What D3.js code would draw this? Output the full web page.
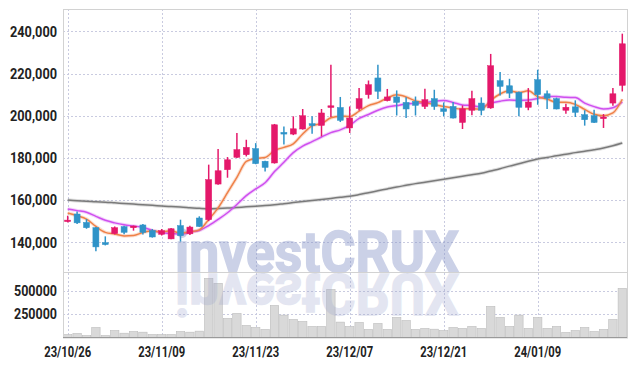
<!DOCTYPE html>
<html>
<head>
<meta charset="utf-8">
<script src="https://cdn.jsdelivr.net/npm/d3@7"></script>
<style>
  body { margin: 0; background: #fff; }
  text { font-family: Roboto, "Liberation Sans", sans-serif; }
</style>
</head>
<body>
<div id="chart"></div>
<script>
// Trading days (YY/MM/DD)
var dates = ["23/10/26","23/10/27","23/10/30","23/10/31","23/11/01","23/11/02","23/11/03","23/11/06","23/11/07","23/11/08",
  "23/11/09","23/11/10","23/11/13","23/11/14","23/11/15","23/11/16","23/11/17","23/11/20","23/11/21","23/11/22",
  "23/11/23","23/11/24","23/11/27","23/11/28","23/11/29","23/11/30","23/12/01","23/12/04","23/12/05","23/12/06",
  "23/12/07","23/12/08","23/12/11","23/12/12","23/12/13","23/12/14","23/12/15","23/12/18","23/12/19","23/12/20",
  "23/12/21","23/12/22","23/12/26","23/12/27","23/12/28","24/01/02","24/01/03","24/01/04","24/01/05","24/01/08",
  "24/01/09","24/01/10","24/01/11","24/01/12","24/01/15","24/01/16","24/01/17","24/01/18","24/01/19","24/01/22"];

var openPrices = [149800,153400,149400,146900,139800,144100,147400,146900,148200,145600,
  143800,141600,147900,144000,151500,150700,167600,174400,180300,181500,
  184400,178400,177600,192100,191300,193700,196200,195400,203900,203900,
  194200,203400,210000,217900,207100,208900,206300,206800,204400,208100,
  203300,204400,196800,202600,206000,203700,216600,214200,211100,204000,
  217100,210400,208100,202600,204200,200500,200000,198600,206000,214400];

var highPrices = [152600,154600,151000,147200,142800,147500,147800,147900,148600,146300,
  146300,146800,150700,147800,152300,176800,184200,180400,191800,188600,
  187000,178600,196100,194900,199700,203200,199700,203200,224200,208900,
  204400,213100,216700,224200,212700,212000,208700,209100,212800,212300,
  206300,206500,204900,211800,208700,229300,220700,217500,211500,213100,
  221800,212000,208600,205700,207300,202600,202800,200800,213100,238900];

var lowPrices = [149400,148700,146400,135700,138500,143700,143800,145500,143700,142200,
  143200,141400,140300,143400,147300,150000,167300,170600,180000,180700,
  177000,173600,177300,186300,190800,193400,191500,190200,199400,197000,
  191800,202500,208100,207900,206800,200100,198900,200100,203200,202800,
  199700,198700,193700,200200,200200,203300,209600,208400,199700,202600,
  205200,203200,203000,200900,199400,195300,196500,194200,204700,211500];

var closePrices = [150500,149200,146900,137800,138900,146900,144700,147700,144700,142500,
  145500,146400,143100,147200,147500,169700,173900,179100,183900,185000,
  177300,175500,195700,191300,193800,200000,195300,201300,204700,197800,
  198900,208100,214700,211600,208900,206300,203200,204900,207600,204400,
  202000,198900,203300,208100,202600,223700,213900,210700,204000,206500,
  210000,208300,203200,204000,201600,198100,196800,199400,210400,234100];

var volumes = [32000,43000,21000,107000,21000,75000,46000,64000,57000,32000,
  32000,32000,64000,57000,68000,633000,580000,204000,258000,129000,
  107000,86000,343000,240000,193000,172000,118000,118000,515000,165000,
  118000,161000,86000,150000,86000,215000,182000,86000,97000,89000,
  75000,107000,97000,118000,97000,333000,215000,118000,240000,97000,
  215000,97000,118000,54000,75000,107000,64000,86000,193000,526000];

// Moving average lines
var ma5 = [153900,152600,151000,147500,144700,143900,143000,143200,144600,145300,
  145000,145400,144400,144900,145900,150800,156300,163500,170800,178300,
  179800,180200,183500,185000,186700,191300,195200,196300,199000,199800,
  199600,202200,204800,206200,208400,209900,208900,207000,206200,205300,
  204400,203600,203200,203300,203000,207300,210300,211800,211000,211800,
  209000,207900,206400,206400,205400,203000,200700,200000,201300,207800];

var ma10 = [155800,155000,154200,152300,150400,149200,148300,147700,147100,145600,
  144500,144200,143800,144800,145600,147900,150800,154000,157900,162100,
  165300,168200,173500,177900,182500,185600,187700,189900,192000,193300,
  195400,198700,200600,202600,204100,204800,205600,205900,206200,206900,
  207200,206300,205100,204800,204100,205900,206900,207500,207200,207400,
  208200,209100,209100,208700,208600,206000,204300,203200,203800,206600];

var maLong = [160000,159700,159500,159200,159000,158700,158400,158100,157800,157500,
  157200,156900,156700,156400,156100,155900,156000,156200,156500,156800,
  157100,157400,157800,158300,158800,159300,159800,160300,160800,161300,
  161800,162600,163500,164400,165300,166200,167000,167800,168500,169200,
  169900,170600,171300,172000,172700,173800,174900,176100,177200,178400,
  179500,180200,181000,181700,182500,183200,183900,184700,185800,187100];

// Axis ticks
var priceTicks = [140000, 160000, 180000, 200000, 220000, 240000];
var volumeTicks = [250000, 500000];
var dateTicks = ["23/10/26", "23/11/09", "23/11/23", "23/12/07", "23/12/21", "24/01/09"];

// SVG area
var svgWidth = 637;
var svgHeight = 366;

var plotLeft = 63;
var plotRight = 627;
var priceTop = 9;
var priceBottom = 272;
var volumeTop = 272;
var volumeBottom = 337.5;

var upColor = "#e4186a";
var downColor = "#2f93c8";
var gridColor = "#c9cbe0";

var svg = d3.select("#chart")
  .append("svg")
  .attr("width", svgWidth)
  .attr("height", svgHeight);

// Scales
var xScale = d3.scaleBand()
  .domain(dates)
  .range([plotLeft, plotRight])
  .padding(0);

var yPrice = d3.scaleLinear()
  .domain([125900, 250600])
  .range([priceBottom, priceTop]);

var yVolume = d3.scaleLinear()
  .domain([0, 702000])
  .range([volumeBottom, volumeTop]);

var bw = xScale.bandwidth();
var cx = d => xScale(d) + bw / 2;

// Grid lines
svg.append("g")
  .selectAll("line")
  .data(priceTicks)
  .enter()
  .append("line")
  .attr("x1", plotLeft)
  .attr("x2", plotRight)
  .attr("y1", d => Math.round(yPrice(d)) + 0.5)
  .attr("y2", d => Math.round(yPrice(d)) + 0.5)
  .attr("stroke", gridColor)
  .attr("stroke-dasharray", "2,2");

svg.append("g")
  .selectAll("line")
  .data(volumeTicks)
  .enter()
  .append("line")
  .attr("x1", plotLeft)
  .attr("x2", plotRight)
  .attr("y1", d => Math.round(yVolume(d)) + 0.5)
  .attr("y2", d => Math.round(yVolume(d)) + 0.5)
  .attr("stroke", gridColor)
  .attr("stroke-dasharray", "2,2");

svg.append("g")
  .selectAll("line")
  .data(dateTicks)
  .enter()
  .append("line")
  .attr("x1", d => Math.round(cx(d)) + 0.5)
  .attr("x2", d => Math.round(cx(d)) + 0.5)
  .attr("y1", priceTop)
  .attr("y2", volumeBottom)
  .attr("stroke", gridColor)
  .attr("stroke-dasharray", "2,2");

// Volume bars
svg.append("g")
  .selectAll("rect")
  .data(dates)
  .enter()
  .append("rect")
  .attr("x", d => xScale(d) + 0.5)
  .attr("y", (d, i) => yVolume(volumes[i]))
  .attr("width", bw - 1)
  .attr("height", (d, i) => volumeBottom - yVolume(volumes[i]))
  .attr("fill", "#d9d9d9")
  .attr("stroke", "#bdbdbd")
  .attr("stroke-width", 0.6);

// Watermark and its reflection
var mark = svg.append("g")
  .attr("font-family", "Liberation Sans, Arial, sans-serif")
  .attr("font-weight", "bold")
  .attr("font-size", 58);

mark.append("text")
  .attr("x", 175)
  .attr("y", priceBottom)
  .attr("textLength", 284)
  .attr("lengthAdjust", "spacingAndGlyphs")
  .attr("fill", "#8593c8")
  .attr("stroke", "#8593c8")
  .attr("stroke-width", 1.5)
  .attr("opacity", 0.42)
  .text("investCRUX");

mark.append("text")
  .attr("x", 175)
  .attr("y", priceBottom)
  .attr("transform", `translate(0, ${2 * priceBottom + 2}) scale(1, -1)`)
  .attr("textLength", 284)
  .attr("lengthAdjust", "spacingAndGlyphs")
  .attr("fill", "#9aa3cc")
  .attr("stroke", "#9aa3cc")
  .attr("stroke-width", 1.5)
  .attr("opacity", 0.27)
  .text("investCRUX");

// Moving average lines
var maLine = function(values) {
  return d3.line()
    .x((d, i) => cx(dates[i]))
    .y(d => yPrice(d))
    .curve(d3.curveMonotoneX)(values);
};

var maSeries = [
  { values: maLong, color: "#7a7a7a" },
  { values: ma10, color: "#cf4fef" },
  { values: ma5, color: "#ef8148" }
];

maSeries.forEach(function(s) {
  svg.append("path")
    .attr("d", maLine(s.values))
    .attr("fill", "none")
    .attr("stroke", s.color)
    .attr("stroke-opacity", 0.25)
    .attr("stroke-width", 3.5);
  svg.append("path")
    .attr("d", maLine(s.values))
    .attr("fill", "none")
    .attr("stroke", s.color)
    .attr("stroke-width", 1.5);
});

// Candles
var candles = svg.append("g")
  .selectAll("g")
  .data(dates)
  .enter()
  .append("g")
  .attr("stroke", (d, i) => closePrices[i] >= openPrices[i] ? upColor : downColor)
  .attr("fill", (d, i) => closePrices[i] >= openPrices[i] ? upColor : downColor);

candles.append("line")
  .attr("x1", d => cx(d))
  .attr("x2", d => cx(d))
  .attr("y1", (d, i) => yPrice(highPrices[i]))
  .attr("y2", (d, i) => yPrice(lowPrices[i]))
  .attr("stroke-width", 1.5);

candles.append("rect")
  .attr("x", d => cx(d) - 3)
  .attr("width", 6)
  .attr("y", (d, i) => yPrice(Math.max(openPrices[i], closePrices[i])))
  .attr("height", (d, i) => Math.max(1.5, Math.abs(yPrice(openPrices[i]) - yPrice(closePrices[i]))))
  .attr("stroke-width", 0.5);

// Frame
svg.append("rect")
  .attr("x", plotLeft + 0.5)
  .attr("y", priceTop + 0.5)
  .attr("width", plotRight - plotLeft)
  .attr("height", volumeBottom - priceTop)
  .attr("fill", "none")
  .attr("stroke", "#d2d2d2");

svg.append("line")
  .attr("x1", plotLeft)
  .attr("x2", plotRight)
  .attr("y1", priceBottom + 0.5)
  .attr("y2", priceBottom + 0.5)
  .attr("stroke", "#d2d2d2");

svg.append("line")
  .attr("x1", plotLeft)
  .attr("x2", plotRight)
  .attr("y1", volumeBottom)
  .attr("y2", volumeBottom)
  .attr("stroke", "#9a9a9a");

// Axes
var leftPrice = d3.axisLeft(yPrice)
  .tickValues(priceTicks)
  .tickSize(0)
  .tickPadding(6)
  .tickFormat(d3.format(",d"));

var leftVolume = d3.axisLeft(yVolume)
  .tickValues(volumeTicks)
  .tickSize(0)
  .tickPadding(6)
  .tickFormat(d3.format("d"));

var bottomAxis = d3.axisBottom(xScale)
  .tickValues(dateTicks)
  .tickSize(0)
  .tickPadding(9);

// Condensed look for tick labels: squeeze each label to the width seen in the chart
function styleTicks(g, width) {
  g.select(".domain").remove();
  g.selectAll("text")
    .attr("font-family", "Roboto, Liberation Sans, sans-serif")
    .attr("font-weight", "bold")
    .attr("font-size", 15)
    .attr("fill", "#222")
    .attr("textLength", width)
    .attr("lengthAdjust", "spacingAndGlyphs");
}

svg.append("g").attr("transform", `translate(${plotLeft}, 0)`).call(leftPrice).call(styleTicks, 47);
svg.append("g").attr("transform", `translate(${plotLeft}, 0)`).call(leftVolume).call(styleTicks, 43);
svg.append("g").attr("transform", `translate(0, ${volumeBottom})`).call(bottomAxis).call(styleTicks, 47);
</script>
</body>
</html>
